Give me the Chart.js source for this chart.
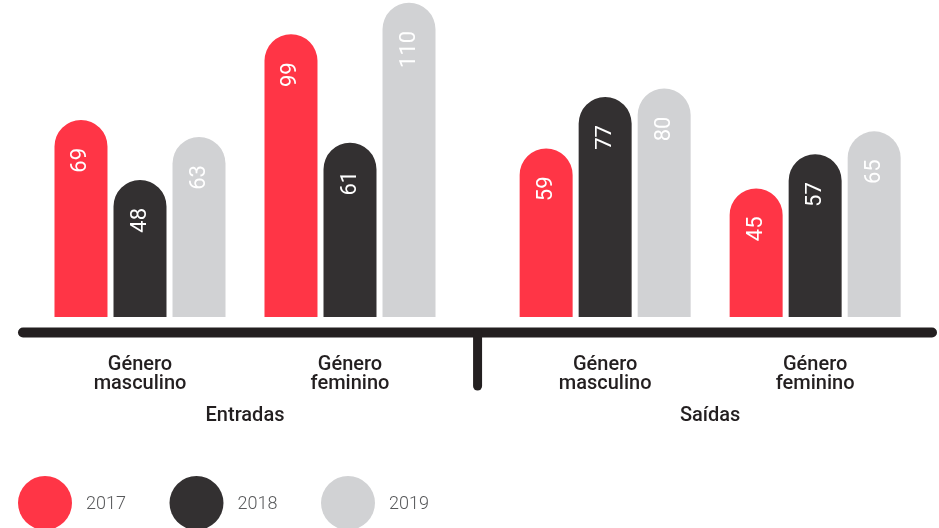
<!DOCTYPE html>
<html>
<head>
<meta charset="utf-8">
<script src="https://cdn.jsdelivr.net/npm/chart.js@4.4.1/dist/chart.umd.min.js"></script>
<style>
  html, body { margin: 0; padding: 0; background: #fff; }
  #wrap { width: 939px; height: 528px; }
</style>
</head>
<body>
<div id="wrap"><canvas id="chart" width="939" height="528"></canvas></div>
<script>
// categories (two-line labels) and the two groups they belong to
var categories = [['Género', 'masculino'], ['Género', 'feminino'], ['Género', 'masculino'], ['Género', 'feminino']];
var groups = ['Entradas', 'Saídas'];
var years = ['2017', '2018', '2019'];

var values2017 = [69, 99, 59, 45];
var values2018 = [48, 61, 77, 57];
var values2019 = [63, 110, 80, 65];

var colors = ['#ff3546', '#333031', '#d1d2d4'];
var inkColor = '#231f20';

// extra room between the Entradas and Saídas groups
function slot(i) { return i + (i >= 2 ? 0.215 : 0); }

function series(values) {
    return values.map(function(v, i){ return { x: slot(i), y: v }; });
}

var valueLabels = {
    id: 'valueLabels',
    afterDatasetsDraw: function(chart){
        var ctx = chart.ctx;
        chart.data.datasets.forEach(function(ds, di){
            chart.getDatasetMeta(di).data.forEach(function(bar, i){
                ctx.save();
                ctx.translate(bar.x, bar.y + 28);
                ctx.rotate(-Math.PI / 2);
                ctx.textAlign = 'right';
                ctx.textBaseline = 'middle';
                ctx.fillStyle = '#ffffff';
                ctx.font = '400 22px Roboto';
                ctx.fillText(String(ds.data[i].y), 0, 0);
                ctx.restore();
            });
        });
    }
};

var decorations = {
    id: 'decorations',
    afterDraw: function(chart){
        var ctx = chart.ctx;
        var xs = chart.scales.x;
        var base = chart.chartArea.bottom;
        var px = function(i){ return xs.getPixelForValue(slot(i)); };

        ctx.save();
        ctx.strokeStyle = inkColor;
        ctx.lineCap = 'round';

        // baseline
        ctx.lineWidth = 10;
        ctx.beginPath();
        ctx.moveTo(23, base + 15.5);
        ctx.lineTo(932, base + 15.5);
        ctx.stroke();

        // separator between groups
        var sepX = (px(1) + px(2)) / 2;
        ctx.lineWidth = 9;
        ctx.beginPath();
        ctx.moveTo(sepX, base + 16);
        ctx.lineTo(sepX, base + 69);
        ctx.stroke();

        // group titles
        ctx.fillStyle = inkColor;
        ctx.font = '500 20px Roboto';
        ctx.textAlign = 'center';
        ctx.textBaseline = 'middle';
        ctx.fillText(groups[0], (px(0) + px(1)) / 2, base + 99);
        ctx.fillText(groups[1], (px(2) + px(3)) / 2, base + 99);

        // legend
        chart.data.datasets.forEach(function(ds, di){
            var cx = 45 + di * 151.5;
            ctx.fillStyle = ds.backgroundColor;
            ctx.beginPath();
            ctx.arc(cx, 503, 27, 0, Math.PI * 2);
            ctx.fill();
            ctx.fillStyle = '#58595b';
            ctx.font = '300 18px Roboto';
            ctx.textAlign = 'left';
            ctx.fillText(ds.label, cx + 41, 504);
        });
        ctx.restore();
    }
};

var barStyle = {
    categoryPercentage: 0.843,
    barPercentage: 0.898,
    borderRadius: { topLeft: 27, topRight: 27 },
    borderSkipped: 'start'
};

var data = {
    datasets: [
        Object.assign({ label: years[0], data: series(values2017), backgroundColor: colors[0] }, barStyle),
        Object.assign({ label: years[1], data: series(values2018), backgroundColor: colors[1] }, barStyle),
        Object.assign({ label: years[2], data: series(values2019), backgroundColor: colors[2] }, barStyle)
    ]
};

var options = {
    responsive: false,
    animation: false,
    devicePixelRatio: 1,
    layout: { padding: { top: 0, left: 0, right: 0, bottom: 121 } },
    plugins: {
        legend: { display: false },
        tooltip: { enabled: false }
    },
    scales: {
        x: {
            type: 'linear',
            offset: false,
            min: -140 / 210,
            max: 799 / 210,
            grid: { display: false, drawTicks: false },
            border: { display: false },
            afterBuildTicks: function(scale){
                scale.ticks = categories.map(function(c, i){ return { value: slot(i) }; });
            },
            afterFit: function(scale){
                scale.height = 90;
                scale.paddingLeft = 0;
                scale.paddingRight = 0;
            },
            ticks: {
                autoSkip: false,
                maxRotation: 0,
                padding: 38,
                color: inkColor,
                font: { family: 'Roboto', size: 20, weight: '500', lineHeight: 0.95 },
                callback: function(value, index){ return categories[index]; }
            }
        },
        y: { display: false, min: 0, max: 111 }
    }
};

var ctx = document.getElementById('chart').getContext('2d');
var myChart = new Chart(ctx, {
    type: 'bar',
    data: data,
    options: options,
    plugins: [valueLabels, decorations]
});
</script>
</body>
</html>
